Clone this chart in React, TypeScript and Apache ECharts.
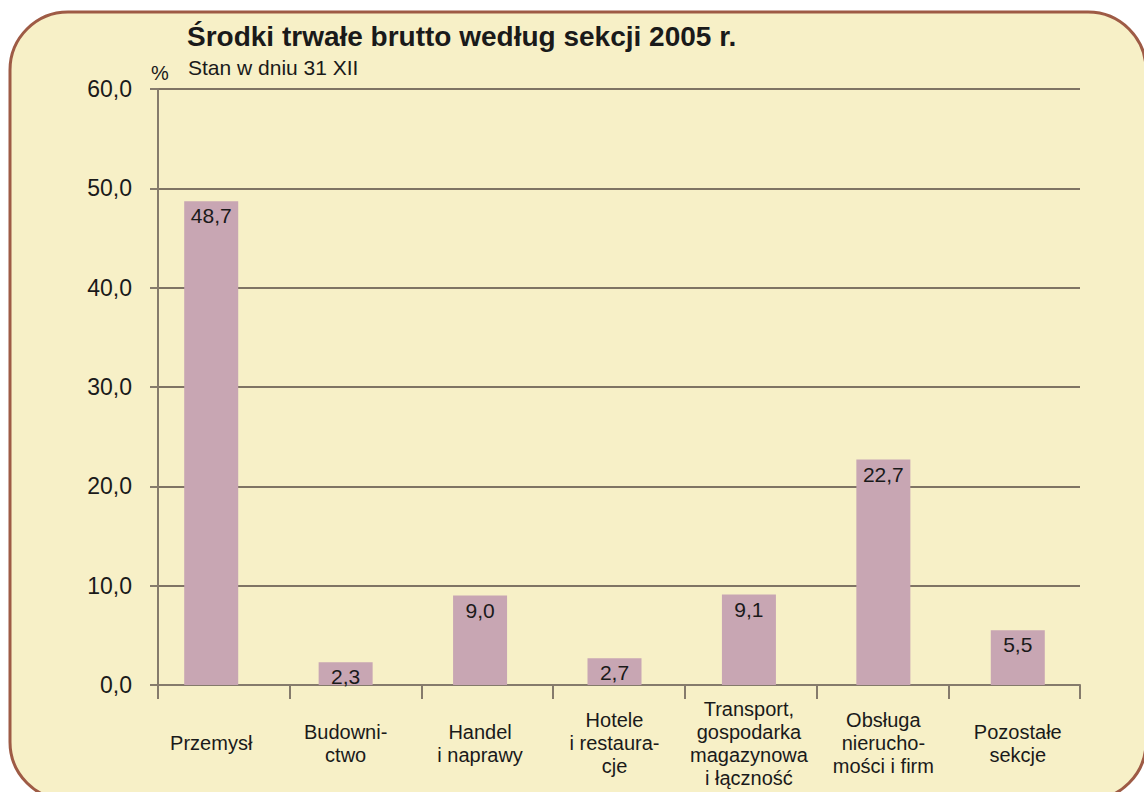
import React, { useEffect, useRef } from "react";
import * as echarts from "echarts";

const categories = [
  "Przemysł",
  "Budowni-\nctwo",
  "Handel\ni naprawy",
  "Hotele\ni restaura-\ncje",
  "Transport,\ngospodarka\nmagazynowa\ni łączność",
  "Obsługa\nnierucho-\nmości i firm",
  "Pozostałe\nsekcje",
];
const values = [48.7, 2.3, 9.0, 2.7, 9.1, 22.7, 5.5];
const yTicks = { min: 0, max: 60, interval: 10 };
const titleText = "Środki trwałe brutto według sekcji 2005 r.";
const subtitleText = "Stan w dniu 31 XII";
const unitText = "%";

const FONT = "'Liberation Sans', Arial, sans-serif";
const fmt = (v: number) => v.toFixed(1).replace(".", ",");

export default function App() {
  const ref = useRef<HTMLDivElement>(null);
  useEffect(() => {
    if (!ref.current) return;
    const chart = echarts.init(ref.current, null, { renderer: "svg" });
    chart.setOption({
      animation: false,
      backgroundColor: "#ffffff",
      graphic: [
        {
          type: "rect",
          z: -10,
          shape: { x: 10, y: 12, width: 1136, height: 788, r: 58 },
          style: { fill: "#F7F0C7", stroke: "#9E5B45", lineWidth: 3 },
        },
        {
          type: "text",
          left: 187,
          top: 22,
          style: { text: titleText, font: `bold 28px ${FONT}`, fill: "#1a1a1a" },
        },
        {
          type: "text",
          left: 188,
          top: 57,
          style: { text: subtitleText, font: `21px ${FONT}`, fill: "#1a1a1a" },
        },
        {
          type: "text",
          left: 151,
          top: 63,
          style: { text: unitText, font: `20px ${FONT}`, fill: "#1a1a1a" },
        },
      ],
      grid: [
        { left: 158, right: 64, top: 89, bottom: 107 },
        { left: 144, right: 59, top: 89, bottom: 107 },
      ],
      xAxis: [
        {
          gridIndex: 0,
          type: "category",
          data: categories,
          axisLine: { show: true, lineStyle: { color: "#857B6C", width: 2 } },
          axisTick: { show: true, length: 14, lineStyle: { color: "#857B6C", width: 2 } },
          axisLabel: { show: false },
        },
        {
          gridIndex: 1,
          type: "category",
          data: categories,
          axisLine: { show: false },
          axisTick: { show: false },
          axisLabel: {
            show: true,
            interval: 0,
            margin: 58,
            verticalAlign: "middle",
            fontFamily: FONT,
            fontSize: 20,
            lineHeight: 23,
            color: "#1a1a1a",
          },
        },
      ],
      yAxis: [
        {
          gridIndex: 0,
          type: "value",
          min: yTicks.min,
          max: yTicks.max,
          interval: yTicks.interval,
          axisLine: { show: true, lineStyle: { color: "#857B6C", width: 2 } },
          axisTick: { show: true, length: 8, lineStyle: { color: "#857B6C", width: 2 } },
          splitLine: { show: true, lineStyle: { color: "#7F7464", width: 2 } },
          axisLabel: {
            formatter: (v: number) => fmt(v),
            margin: 26,
            fontFamily: FONT,
            fontSize: 23,
            color: "#1a1a1a",
          },
        },
        {
          gridIndex: 1,
          type: "value",
          min: yTicks.min,
          max: yTicks.max,
          interval: yTicks.interval,
          show: false,
          splitLine: { show: false },
        },
      ],
      series: [
        {
          type: "bar",
          xAxisIndex: 1,
          yAxisIndex: 1,
          data: values,
          barWidth: 54,
          itemStyle: { color: "#C8A6B3" },
          label: {
            show: true,
            position: "insideTop",
            distance: 4,
            formatter: (p: any) => fmt(p.value),
            fontFamily: FONT,
            fontSize: 21,
            color: "#1a1a1a",
          },
        },
      ],
    });
    return () => chart.dispose();
  }, []);
  return (
    <div
      ref={ref}
      style={{ position: "fixed", left: 0, top: 0, width: 1144, height: 792 }}
    />
  );
}
